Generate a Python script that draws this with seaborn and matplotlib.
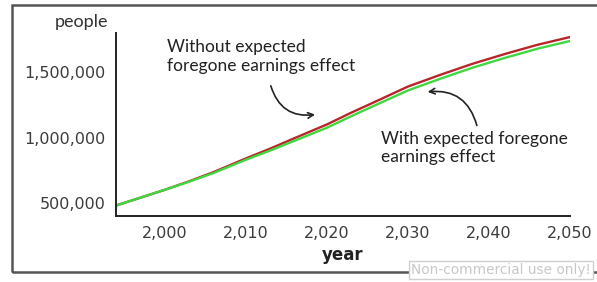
import matplotlib
matplotlib.use("Agg")
import matplotlib.pyplot as plt
from matplotlib.patches import Rectangle
from matplotlib.ticker import FuncFormatter
import seaborn as sns
import pandas as pd

# values
years = [1994, 1997, 2000, 2003, 2006, 2010, 2013, 2016, 2020, 2023, 2026, 2030,
         2034, 2038, 2042, 2046, 2050]
without_effect = [480000, 540000, 600000, 665000, 735000, 840000, 915000, 995000,
                  1100000, 1190000, 1275000, 1390000, 1480000, 1565000, 1640000,
                  1710000, 1769000]
with_effect = [480000, 540000, 600000, 662000, 728000, 830000, 900000, 975000,
               1075000, 1163000, 1248000, 1360000, 1450000, 1535000, 1610000,
               1680000, 1739000]

x_ticks = [2000, 2010, 2020, 2030, 2040, 2050]
y_ticks = [500000, 1000000, 1500000]

df = pd.DataFrame({
    "year": years * 2,
    "people": without_effect + with_effect,
    "series": ["without"] * len(years) + ["with"] * len(years),
})

sns.set_style("white")
plt.rcParams["font.family"] = ["DejaVu Sans"]

fig = plt.figure(figsize=(5.97, 2.82), dpi=100)
ax = fig.add_axes([116 / 597, 1 - 216 / 282, (570 - 116) / 597, (216 - 33) / 282])

sns.lineplot(data=df, x="year", y="people", hue="series",
             palette={"without": "#b8262a", "with": "#3fd83f"},
             hue_order=["without", "with"], linewidth=1.7, legend=False, ax=ax)

ax.set_xlim(1994, 2050)
ax.set_ylim(400000, 1800000)
ax.set_xticks(x_ticks)
ax.set_yticks(y_ticks)
fmt = FuncFormatter(lambda v, p: f"{int(v):,}")
ax.xaxis.set_major_formatter(fmt)
ax.yaxis.set_major_formatter(fmt)
ax.tick_params(direction="inout", length=9, width=1.2, color="#222222",
               labelsize=11.5, labelcolor="#3c3c3c", pad=3)
for s in ["top", "right"]:
    ax.spines[s].set_visible(False)
for s in ["left", "bottom"]:
    ax.spines[s].set_color("#222222")
    ax.spines[s].set_linewidth(1.4)

ax.set_xlabel("year", fontsize=12, fontweight="bold", color="#222222", labelpad=3)
ax.set_ylabel("")
fig.text(108 / 597, 1 - 22 / 282, "people", ha="right", va="center",
         fontsize=13, color="#333333", family="Lato")

ann_font = dict(fontsize=12.5, color="#222222", family="Lato", linespacing=1.2)
ax.text(2000.3, 1622000, "Without expected\nforegone earnings effect",
        ha="left", va="center", **ann_font)
ax.text(2026.7, 920000, "With expected foregone\nearnings effect",
        ha="left", va="center", **ann_font)

arrow = dict(arrowstyle="->", color="#222222", lw=1.2,
             connectionstyle="arc3,rad=0.45")
ax.annotate("", xy=(2018.9, 1179000), xytext=(2013.0, 1416000),
            arrowprops=arrow)
ax.annotate("", xy=(2032.1, 1347000), xytext=(2038.6, 1072000),
            arrowprops=arrow)

# outer frame
fig.patches.append(Rectangle((12 / 597, 1 - 272 / 282), 1.2, (272 - 5) / 282,
                             transform=fig.transFigure, fill=False,
                             edgecolor="#555555", linewidth=1.8))
fig.text(411 / 597, 1 - 270 / 282, "Non-commercial use only!", ha="left",
         va="center", fontsize=9.8, color="#c8c8c8",
         bbox=dict(facecolor="white", edgecolor="#d0d0d0", pad=1.2))

fig.savefig("out.png", dpi=100)
